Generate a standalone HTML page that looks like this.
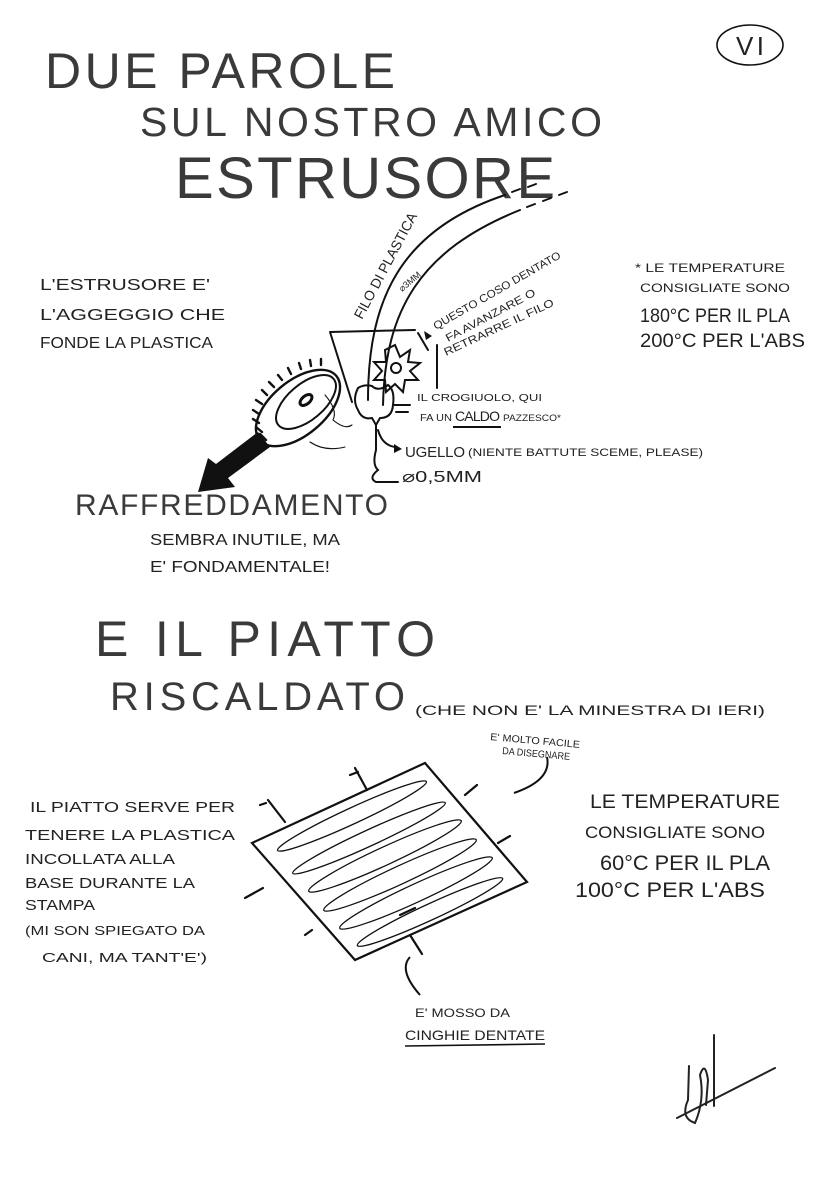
<!DOCTYPE html>
<html><head><meta charset="utf-8"><style>
html,body{margin:0;padding:0;background:#fff;}
svg{display:block;}
text{font-family:"Liberation Sans",sans-serif;fill:#222;}
.h{fill:#3a3a3a;}
</style></head><body>
<svg width="832" height="1198" viewBox="0 0 832 1198" xmlns="http://www.w3.org/2000/svg">
<rect width="832" height="1198" fill="#fff"/>
<!-- Title -->
<text class="h" x="45" y="88" font-size="50" textLength="350" lengthAdjust="spacing">DUE PAROLE</text>
<text class="h" x="140" y="136" font-size="41" textLength="462" lengthAdjust="spacing">SUL NOSTRO AMICO</text>
<text class="h" x="175" y="198" font-size="58" textLength="380" lengthAdjust="spacing">ESTRUSORE</text>
<ellipse cx="750" cy="45" rx="33" ry="20" fill="none" stroke="#111" stroke-width="1.6"/>
<text x="736" y="55" font-size="26" textLength="28" lengthAdjust="spacing">VI</text>

<!-- Left notes -->
<text x="40" y="290" font-size="16" textLength="170" lengthAdjust="spacingAndGlyphs">L'ESTRUSORE E'</text>
<text x="40" y="320" font-size="16" textLength="185" lengthAdjust="spacingAndGlyphs">L'AGGEGGIO CHE</text>
<text x="40" y="348" font-size="16" textLength="173" lengthAdjust="spacingAndGlyphs">FONDE LA PLASTICA</text>

<!-- Right notes -->
<text x="635" y="272" font-size="12" textLength="150" lengthAdjust="spacingAndGlyphs">* LE TEMPERATURE</text>
<text x="640" y="292" font-size="12" textLength="150" lengthAdjust="spacingAndGlyphs">CONSIGLIATE SONO</text>
<text x="640" y="322" font-size="19" textLength="150" lengthAdjust="spacingAndGlyphs">180°C PER IL PLA</text>
<text x="640" y="347" font-size="19" textLength="165" lengthAdjust="spacingAndGlyphs">200°C PER L'ABS</text>

<!-- Extruder drawing -->
<g fill="none" stroke="#111" stroke-width="2" stroke-linecap="round">
  <path d="M368 400 C368 300 400 230 505 195"/>
  <path d="M383 405 C385 310 420 250 520 210"/>
  <path d="M512 192 l8 -3 M528 187 l8 -3" />
  <path d="M527 207 l8 -3 M543 201 l8 -3 M559 195 l8 -3"/>
  <path d="M330 332 L415 330 M330 332 L352 402"/>
  <path d="M395 345 L400 357 L410 350 L408 362 L420 363 L410 371 L418 380 L405 380 L403 392 L395 384 L386 392 L385 380 L374 380 L382 371 L374 362 L386 362 L385 350 Z"/>
  <circle cx="396" cy="368" r="5"/>
  <path d="M358 388 Q352 400 358 410 Q362 420 372 418 L376 425 L380 418 Q392 418 393 405 Q395 390 388 385 Q378 392 372 386 Q364 384 358 388 Z"/>
  <path d="M376 425 L376 450 Q372 465 378 470 Q368 478 376 482 L398 482"/>
  <path d="M418 333 L428 350"/>
  <path d="M437 388 L437 345"/>
  <path d="M394 405 L410 405 M396 412 L408 412"/>
  <path d="M378 430 Q382 445 395 447"/>
  <ellipse cx="298" cy="408" rx="50" ry="27" transform="rotate(-40 298 408)" stroke-width="2.4"/>
  <ellipse cx="306" cy="402" rx="36" ry="18" transform="rotate(-40 306 402)"/>
  <ellipse cx="306" cy="400" rx="7" ry="4" stroke-width="3" transform="rotate(-40 306 400)"/>
  <path d="M266 440 l-6 -6 M262 432 l-6 -5 M259 423 l-6 -4 M259 414 l-6-4 M262 404 l-6-4 M267 395 l-5-5 M274 387 l-5-5 M282 380 l-4-5 M291 374 l-3-6 M301 369 l-2-6 M311 366 l-1-6 M321 365 l0-6" stroke-width="2.4"/>
  <path d="M325 395 Q338 410 333 420 Q345 430 352 425" stroke-width="1.1"/>
  <path d="M310 442 Q325 452 345 447" stroke-width="1.1"/>
</g>
<polygon points="424,331 432,336 426,340" fill="#111"/>
<polygon points="402,449 394,444 394,453" fill="#111"/>
<polygon points="258,432 270,447 228,478 235,487 198,492 208,458 216,464" fill="#111"/>

<!-- extruder labels -->
<text transform="translate(362 320) rotate(-62)" font-size="14" textLength="118" lengthAdjust="spacingAndGlyphs">FILO DI PLASTICA</text>
<text transform="translate(402 292) rotate(-40)" font-size="9">⌀3MM</text>
<text transform="translate(436 330) rotate(-30)" font-size="11" textLength="145" lengthAdjust="spacingAndGlyphs">QUESTO COSO DENTATO</text>
<text transform="translate(448 342) rotate(-28)" font-size="11" textLength="100" lengthAdjust="spacingAndGlyphs">FA AVANZARE O</text>
<text transform="translate(446 356) rotate(-25)" font-size="11" textLength="120" lengthAdjust="spacingAndGlyphs">RETRARRE IL FILO</text>
<text x="417" y="401" font-size="10" textLength="125" lengthAdjust="spacingAndGlyphs">IL CROGIUOLO, QUI</text>
<text x="420" y="421" font-size="10" textLength="32" lengthAdjust="spacingAndGlyphs">FA UN</text>
<text x="455" y="421" font-size="14" textLength="45">CALDO</text>
<line x1="453" y1="427" x2="501" y2="427" stroke="#111" stroke-width="2"/>
<text x="503" y="421" font-size="9" textLength="58" lengthAdjust="spacingAndGlyphs">PAZZESCO*</text>
<text x="405" y="457" font-size="15" textLength="60" lengthAdjust="spacing">UGELLO</text>
<text x="468" y="456" font-size="11" textLength="235" lengthAdjust="spacingAndGlyphs">(NIENTE BATTUTE SCEME, PLEASE)</text>
<text x="402" y="482" font-size="16" textLength="80" lengthAdjust="spacingAndGlyphs">⌀0,5MM</text>

<text class="h" x="75" y="515" font-size="30" textLength="313" lengthAdjust="spacing">RAFFREDDAMENTO</text>
<text x="150" y="545" font-size="16" textLength="190" lengthAdjust="spacingAndGlyphs">SEMBRA INUTILE, MA</text>
<text x="150" y="572" font-size="16" textLength="180" lengthAdjust="spacingAndGlyphs">E' FONDAMENTALE!</text>

<!-- second section -->
<text class="h" x="95" y="656" font-size="50" textLength="340" lengthAdjust="spacing">E IL PIATTO</text>
<text class="h" x="110" y="710" font-size="40" textLength="295" lengthAdjust="spacing">RISCALDATO</text>
<text x="415" y="715" font-size="14" textLength="350" lengthAdjust="spacingAndGlyphs">(CHE NON E' LA MINESTRA DI IERI)</text>
<text transform="translate(490 740) rotate(5)" font-size="10" textLength="90" lengthAdjust="spacingAndGlyphs">E' MOLTO FACILE</text>
<text transform="translate(502 754) rotate(5)" font-size="10" textLength="68" lengthAdjust="spacingAndGlyphs">DA DISEGNARE</text>
<path d="M547 757 Q552 780 514 793" fill="none" stroke="#111" stroke-width="2"/>

<!-- plate -->
<g fill="none" stroke="#111" stroke-width="2.2" stroke-linecap="round">
  <path d="M252 843 L425 763 L527 882 L355 960 Z"/>
  <g stroke-width="1.3">
    <ellipse cx="352" cy="816" rx="82" ry="8" transform="rotate(-24.8 352 816)"/>
    <ellipse cx="369" cy="838" rx="84" ry="8" transform="rotate(-24.8 369 838)"/>
    <ellipse cx="385" cy="856" rx="84" ry="9" transform="rotate(-24.8 385 856)"/>
    <ellipse cx="400" cy="875" rx="84" ry="9" transform="rotate(-24.8 400 875)"/>
    <ellipse cx="416" cy="893" rx="84" ry="9" transform="rotate(-24.8 416 893)"/>
    <ellipse cx="430" cy="912" rx="80" ry="8" transform="rotate(-24.8 430 912)"/>
  </g>
  <path d="M268 800 L285 822 M260 805 l6 -2 M355 768 L367 790 M350 775 l8-3 M477 785 L465 795 M510 836 L498 843 M245 898 L263 888 M305 935 L312 930 M415 908 L400 915 M410 935 L422 954"/>
</g>

<!-- left note -->
<text x="30" y="812" font-size="15" textLength="205" lengthAdjust="spacingAndGlyphs">IL PIATTO SERVE PER</text>
<text x="25" y="840" font-size="15" textLength="210" lengthAdjust="spacingAndGlyphs">TENERE LA PLASTICA</text>
<text x="25" y="864" font-size="15" textLength="150" lengthAdjust="spacingAndGlyphs">INCOLLATA ALLA</text>
<text x="25" y="888" font-size="15" textLength="170" lengthAdjust="spacingAndGlyphs">BASE DURANTE LA</text>
<text x="25" y="910" font-size="15" textLength="70" lengthAdjust="spacingAndGlyphs">STAMPA</text>
<text x="25" y="935" font-size="13" textLength="180" lengthAdjust="spacingAndGlyphs">(MI SON SPIEGATO DA</text>
<text x="42" y="962" font-size="13" textLength="165" lengthAdjust="spacingAndGlyphs">CANI, MA TANT'E')</text>

<!-- right note -->
<text x="590" y="808" font-size="19" textLength="190" lengthAdjust="spacingAndGlyphs">LE TEMPERATURE</text>
<text x="585" y="838" font-size="17" textLength="180" lengthAdjust="spacingAndGlyphs">CONSIGLIATE SONO</text>
<text x="600" y="870" font-size="21" textLength="170" lengthAdjust="spacingAndGlyphs">60°C PER IL PLA</text>
<text x="575" y="897" font-size="21" textLength="190" lengthAdjust="spacingAndGlyphs">100°C PER L'ABS</text>

<path d="M420 995 Q398 970 410 957" fill="none" stroke="#111" stroke-width="2"/>
<text x="415" y="1017" font-size="12" textLength="95" lengthAdjust="spacingAndGlyphs">E' MOSSO DA</text>
<text x="405" y="1040" font-size="14" textLength="140" lengthAdjust="spacingAndGlyphs">CINGHIE DENTATE</text>
<line x1="405" y1="1046" x2="545" y2="1044" stroke="#111" stroke-width="1.6"/>

<!-- signature -->
<g fill="none" stroke="#222" stroke-width="2" stroke-linecap="round">
  <path d="M714 1035 L714 1106"/>
  <path d="M677 1118 L775 1068"/>
  <path d="M689 1066 L688 1100 Q680 1118 695 1123 Q705 1100 700 1075 Q705 1060 708 1080 L706 1105"/>
</g>
</svg>
</body></html>
